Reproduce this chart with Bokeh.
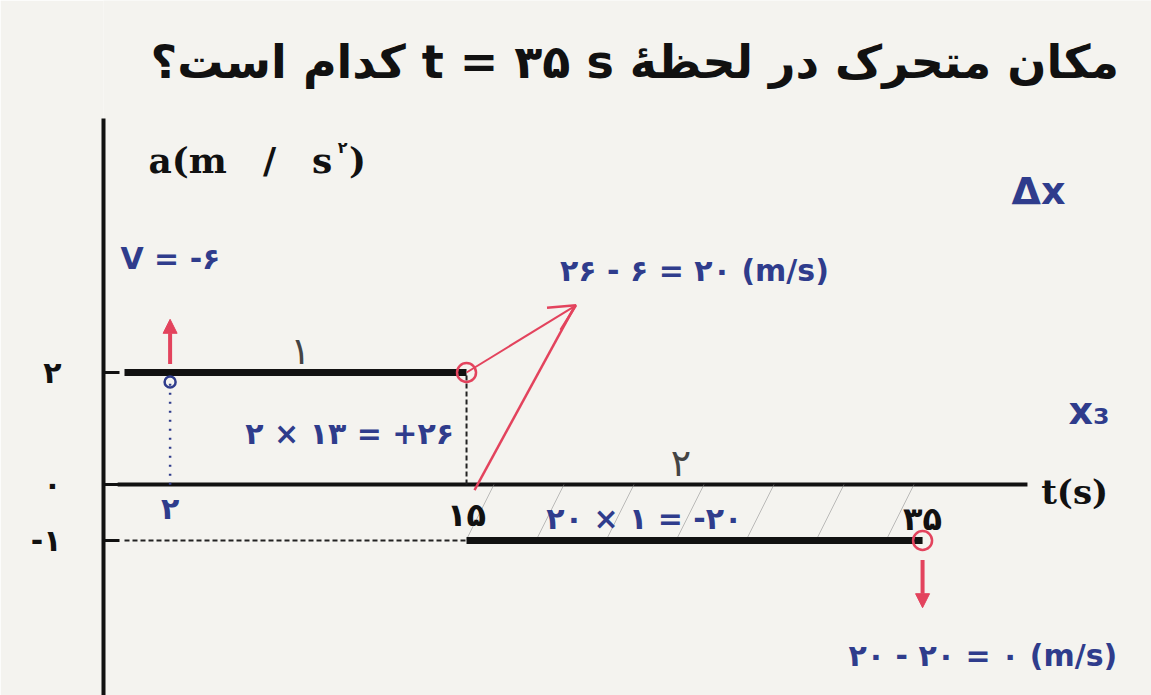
from bokeh.plotting import figure
from bokeh.models import Range1d, FixedTicker, ColumnDataSource, Arrow, NormalHead, OpenHead
from bokeh.core.properties import value
from bokeh.embed import file_html
from bokeh.resources import INLINE

# piecewise-constant acceleration a(t)
seg_start = [0, 15]
seg_end = [15, 35]
seg_accel = [2, -1]

# axis ticks and their Persian labels
accel_ticks = [2, 0, -1]
accel_tick_labels = ["۲", "۰", "-۱"]
time_ticks = [15, 35]
time_tick_labels = ["۱۵", "۳۵"]

# worked solution: v(2) = -6, area 2x13 = +26, area 20x(-1) = -20
t_mark = 2
v_mark = -6
area1 = 26
area2 = -20
v15 = 20
v35 = 0

INK_BLUE = "#2f3c8c"
INK_RED = "#e3435d"
PAPER = "#f4f3ef"
PERSIAN = value("DejaVu Sans")
SERIF = value("DejaVu Serif")

p = figure(width=1151, height=695, title=None,
           x_range=Range1d(-0.921, 45.04), y_range=Range1d(-3.768, 8.643),
           output_backend="svg", toolbar_location=None,
           x_axis_location=None, y_axis_location="left",
           min_border_left=103, min_border_right=0,
           min_border_top=0, min_border_bottom=0)
p.background_fill_color = PAPER
p.border_fill_color = PAPER
p.outline_line_color = None
p.grid.visible = False

ax = p.yaxis[0]
ax.ticker = FixedTicker(ticks=accel_ticks, minor_ticks=[])
ax.major_label_overrides = {t: l for t, l in zip(accel_ticks, accel_tick_labels)}
ax.bounds = (-3.768, 6.536)
ax.axis_line_width = 4
ax.axis_line_color = "#111111"
ax.major_tick_in = 16
ax.major_tick_out = 0
ax.major_tick_line_width = 3
ax.major_tick_line_color = "#111111"
ax.minor_tick_line_color = None
ax.major_label_standoff = 42
ax.major_label_text_font = "DejaVu Sans"
ax.major_label_text_font_style = "bold"
ax.major_label_text_font_size = "30px"
ax.major_label_text_color = "#111111"

# time axis
p.segment(x0=[-0.3], y0=[0], x1=[39.6], y1=[0], line_width=4, line_color="#111111")

# hatched area of the second interval
p.quad(left=[seg_start[1]], right=[seg_end[1]], bottom=[seg_accel[1]], top=[0],
       fill_color=None, line_color=None,
       hatch_pattern="/", hatch_scale=140, hatch_weight=1,
       hatch_color="#8a8a8a", hatch_alpha=0.55)

# guide lines
p.segment(x0=[seg_end[0]], y0=[0], x1=[seg_end[0]], y1=[seg_accel[0]],
          line_width=2, line_dash="5 3", line_color="#222222")
p.segment(x0=[0], y0=[seg_accel[1]], x1=[seg_start[1]], y1=[seg_accel[1]],
          line_width=2, line_dash="5 3", line_color="#222222")

# a(t)
src = ColumnDataSource(dict(t0=seg_start, t1=seg_end, a=seg_accel))
p.segment(x0="t0", y0="a", x1="t1", y1="a", source=src, line_width=7, line_color="#111111")

# time tick labels
p.text(x=time_ticks, y=[-0.55, -0.62], text=time_tick_labels,
       text_font=PERSIAN, text_font_style="bold", text_font_size="32px",
       text_color="#111111", text_align="center", text_baseline="middle")

# axis titles
p.text(x=[40.2], y=[-0.14], text=["t(s)"], text_font=SERIF, text_font_style="bold",
       text_font_size="34px", text_color="#111111", text_align="left", text_baseline="middle")
p.text(x=[1.05], y=[5.79], text=["a(m\u2003/\u2003s"], text_font=SERIF, text_font_style="bold",
       text_font_size="36px", text_color="#111111", text_align="left", text_baseline="middle")
p.text(x=[9.35], y=[6.02], text=["۲"], text_font=PERSIAN, text_font_style="bold",
       text_font_size="16px", text_color="#111111", text_align="left", text_baseline="middle")
p.text(x=[9.85], y=[5.79], text=[")"], text_font=SERIF, text_font_style="bold",
       text_font_size="36px", text_color="#111111", text_align="left", text_baseline="middle")

# question line
question = "\u202bمکان متحرک در لحظهٔ t = ۳۵ s کدام است؟\u202c"
p.text(x=[1.14], y=[7.54], text=[question], text_font=PERSIAN, text_font_style="bold",
       text_font_size="46px", text_color="#111111", text_align="left", text_baseline="middle")

# segment numbers (pencil)
p.text(x=[7.72, 24.4], y=[2.39, 0.39], text=["۱", "۲"], text_font=PERSIAN,
       text_font_size="38px", text_color="#444444", text_align="center", text_baseline="middle")

def fa(n):
    digits = "۰۱۲۳۴۵۶۷۸۹"
    s = "".join(digits[int(c)] if c.isdigit() else c for c in str(abs(n)))
    return ("-" if n < 0 else "") + s

# handwritten working in blue
notes = [
    (-0.18, 4.04, "V = " + fa(v_mark)),
    (19.1, 3.82, f"{fa(area1)} - {fa(-v_mark)} = {fa(v15)} (m/s)"),
    (5.3, 0.91, f"{fa(seg_accel[0])} × {fa(seg_end[0] - t_mark)} = +{fa(area1)}"),
    (18.5, -0.6, f"{fa(seg_end[1] - seg_start[1])} × {fa(-seg_accel[1])} = {fa(area2)}"),
    (31.75, -3.05, f"{fa(v15)} - {fa(-area2)} = {fa(v35)} (m/s)"),
]
p.text(x=[n[0] for n in notes], y=[n[1] for n in notes], text=[n[2] for n in notes],
       text_font=PERSIAN, text_font_style="bold", text_font_size="30px",
       text_color=INK_BLUE, text_align="left", text_baseline="middle")
p.text(x=[38.9, 41.4], y=[5.25, 1.32], text=["Δx", "x₃"], text_font=PERSIAN,
       text_font_style="bold", text_font_size="38px",
       text_color=INK_BLUE, text_align="left", text_baseline="middle")
p.text(x=[t_mark], y=[-0.43], text=[fa(t_mark)], text_font=PERSIAN, text_font_style="bold",
       text_font_size="30px", text_color=INK_BLUE, text_align="center", text_baseline="middle")
p.segment(x0=[t_mark], y0=[1.8], x1=[t_mark], y1=[-0.05], line_width=2.5,
          line_dash="2 7", line_color=INK_BLUE)
p.scatter(x=[t_mark], y=[1.83], size=11, marker="circle", fill_color=None,
          line_color=INK_BLUE, line_width=2.5)

# red velocity marks
p.scatter(x=[seg_end[0], seg_end[1]], y=[seg_accel[0], seg_accel[1]], size=19,
          marker="circle", fill_color=None, line_color=INK_RED, line_width=2.5)
p.add_layout(Arrow(x_start=t_mark, y_start=2.15, x_end=t_mark, y_end=2.95,
                   line_color=INK_RED, line_width=4,
                   end=NormalHead(size=14, fill_color=INK_RED, line_color=INK_RED)))
p.add_layout(Arrow(x_start=seg_end[0], y_start=seg_accel[0], x_end=19.8, y_end=3.2,
                   line_color=INK_RED, line_width=2,
                   end=OpenHead(size=26, line_color=INK_RED, line_width=2.5)))
p.segment(x0=[15.35], y0=[-0.1], x1=[19.7], y1=[3.15], line_width=2.5, line_color=INK_RED)
p.add_layout(Arrow(x_start=seg_end[1], y_start=-1.35, x_end=seg_end[1], y_end=-2.2,
                   line_color=INK_RED, line_width=4,
                   end=NormalHead(size=14, fill_color=INK_RED, line_color=INK_RED)))

open("out.html", "w").write(file_html(p, INLINE))
